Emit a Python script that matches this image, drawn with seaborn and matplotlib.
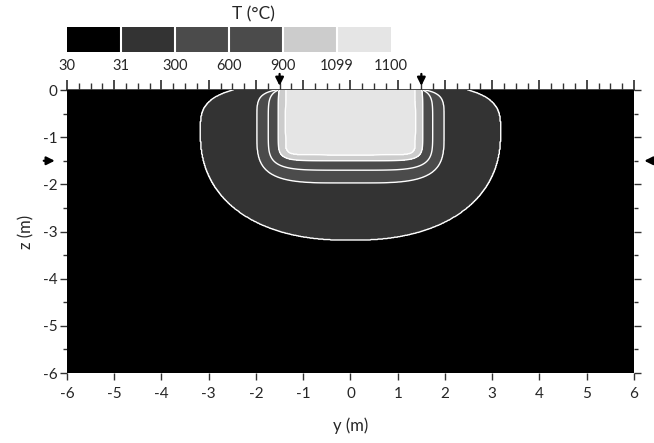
import numpy as np
import matplotlib
matplotlib.use('Agg')
import matplotlib.pyplot as plt
import seaborn as sns
from matplotlib.colors import ListedColormap, BoundaryNorm
from matplotlib.ticker import MultipleLocator

# contour levels and fill colours (T in deg C)
levels = [30, 31, 300, 600, 900, 1099, 1100]
fill_colors = ['#000000', '#333333', '#4b4b4b', '#4b4b4b', '#cccccc', '#e5e5e5']

# shape of each isotherm (31, 300, 600, 900, 1099)
half_width = [3.17, 1.98, 1.74, 1.53, 1.38]
center_z = [-0.90, -0.80, -0.80, -0.75, -0.70]
top_height = [1.05, 0.837, 0.887, 1.00, 0.90]
bottom_height = [2.28, 1.17, 0.90, 0.75, 0.68]
top_exp = [3.5, 6.0, 6.0, 8.0, 10.0]
bottom_exp = [2.3, 4.0, 5.0, 7.0, 10.0]

# heated strip edges (arrows)
arrow_y = [-1.5, 1.5]
arrow_z = -1.5


def isotherm_norm(y, z, i):
    """Superellipse 'radius' of point relative to isotherm i (1 on the line)."""
    up = z > center_z[i]
    h = np.where(up, top_height[i], bottom_height[i])
    p = np.where(up, top_exp[i], bottom_exp[i])
    return ((np.abs(y) / half_width[i]) ** p
            + (np.abs(z - center_z[i]) / h) ** p) ** (1 / p)


def build_field(y, z):
    f = [isotherm_norm(y, z, i) for i in range(len(half_width))]
    temp = 30 + 1 / np.maximum(f[0], 1)
    for i in range(len(f) - 1):
        inside = (f[i] < 1) & (f[i + 1] >= 1)
        a = 1 - f[i]
        b = f[i + 1] - 1
        frac = a / np.maximum(a + b, 1e-9)
        val = levels[i + 1] + (levels[i + 2] - levels[i + 1]) * frac
        temp = np.where(inside, val, temp)
    last = f[-1] < 1
    temp = np.where(last, levels[-2] + (1 - f[-1]) * 0.99, temp)
    return temp


sns.set_theme(style='ticks')
plt.rcParams['font.family'] = ['Lato', 'DejaVu Sans']
plt.rcParams['axes.unicode_minus'] = False

fig = plt.figure(figsize=(6.54, 4.43), dpi=100)
ax = fig.add_axes([0.1024, 0.158, 0.867, 0.6388])

yy, zz = np.meshgrid(np.linspace(-6, 6, 801), np.linspace(-6, 0, 601))
T = build_field(yy, zz)

cmap = ListedColormap(fill_colors)
norm = BoundaryNorm(levels, cmap.N)
cf = ax.contourf(yy, zz, T, levels=levels, cmap=cmap, norm=norm)
ax.contour(yy, zz, T, levels=levels[1:-1], colors='white', linewidths=1.0)

ax.set_xlim(-6, 6)
ax.set_ylim(-6, 0)
ax.xaxis.set_major_locator(MultipleLocator(1))
ax.yaxis.set_major_locator(MultipleLocator(1))
ax.yaxis.set_minor_locator(MultipleLocator(0.5))
ax.tick_params(axis='both', labelsize=11, color='#333333', width=1,
               length=5, direction='out')
ax.tick_params(axis='x', pad=5)
ax.tick_params(axis='y', pad=2)
ax.tick_params(axis='y', which='minor', length=3, color='#333333')
ax.tick_params(axis='y', which='both', right=True)
ax.tick_params(axis='x', which='minor', length=0)
for s in ax.spines.values():
    s.set_visible(False)

# top axis with fine ticks
top = ax.secondary_xaxis('top')
top.xaxis.set_major_locator(MultipleLocator(1))
top.xaxis.set_minor_locator(MultipleLocator(0.25))
top.tick_params(which='major', length=7, color='#333333', labeltop=False)
top.tick_params(which='minor', length=5, color='#333333')
top.spines['top'].set_color('#333333')

ax.set_xlabel('y (m)', fontsize=12, labelpad=12)
ax.set_ylabel('z (m)', fontsize=12, labelpad=6)

# arrows marking heated strip
arrow_kw = dict(arrowstyle='-|>', color='black', lw=1.6, mutation_scale=12)
for ya in arrow_y:
    ax.annotate('', xy=(ya, 0.03), xytext=(ya, 0.40),
                arrowprops=arrow_kw, annotation_clip=False)
ax.annotate('', xy=(-6.20, arrow_z), xytext=(-6.55, arrow_z),
            arrowprops=arrow_kw, annotation_clip=False)
ax.annotate('', xy=(6.16, arrow_z), xytext=(6.50, arrow_z),
            arrowprops=arrow_kw, annotation_clip=False)

# colour bar
cax = fig.add_axes([0.1024, 0.8826, 0.4954, 0.0564])
cb = fig.colorbar(cf, cax=cax, orientation='horizontal', ticks=levels,
                  drawedges=True)
cb.outline.set_visible(False)
cb.dividers.set_color('white')
cb.dividers.set_linewidth(1.5)
cax.set_xticklabels([str(v) for v in levels])
cax.tick_params(length=0, labelsize=10.5, pad=5)
fig.text(0.388, 0.985, 'T (°C)', ha='center', va='top', fontsize=12.5)

plt.savefig('out.png', dpi=100)
